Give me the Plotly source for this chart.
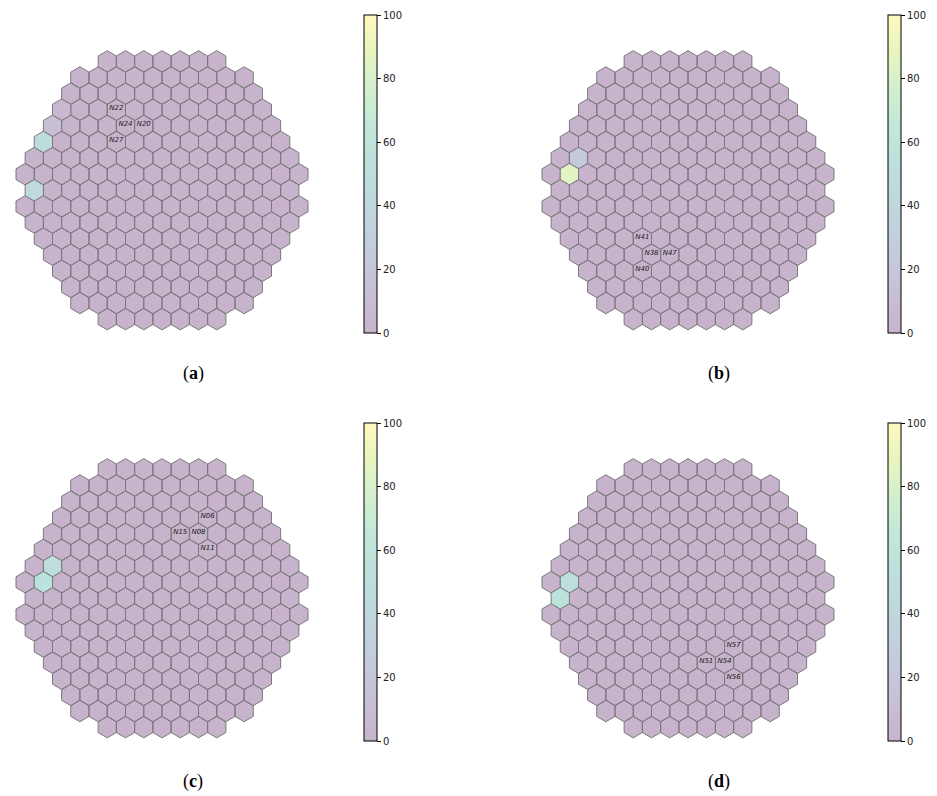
import math
import plotly.graph_objects as go
from plotly.colors import sequential, hex_to_rgb, sample_colorscale

# Number of sensors in each row of the hexagonal array, top to bottom
ROW_COUNTS = [7, 10, 11, 12, 13, 14, 15, 16, 15, 16, 15, 14, 13, 12, 11, 10, 7]

# Non-zero readings per panel: (row, position in row, value)
PANEL_A_VALUES = [(3, 0, 6), (4, 0, 12), (5, 0, 48), (8, 0, 45)]
PANEL_B_VALUES = [(6, 1, 25), (7, 1, 85)]
PANEL_C_VALUES = [(6, 1, 50), (7, 1, 55)]
PANEL_D_VALUES = [(7, 1, 50), (8, 0, 55)]

# Sensor names written on cells: (name, row, position in row)
PANEL_A_LABELS = [("N22", 3, 3), ("N24", 4, 4), ("N20", 4, 5), ("N27", 5, 4)]
PANEL_B_LABELS = [("N41", 11, 4), ("N38", 12, 4), ("N47", 12, 5), ("N40", 13, 3)]
PANEL_C_LABELS = [("N06", 3, 8), ("N15", 4, 7), ("N08", 4, 8), ("N11", 5, 9)]
PANEL_D_LABELS = [("N57", 11, 9), ("N51", 12, 7), ("N54", 12, 8), ("N56", 13, 8)]

PANEL_LETTERS = ["a", "b", "c", "d"]
CBAR_TICKS = [0, 20, 40, 60, 80, 100]
VMIN, VMAX = 0, 100

W, H = 937, 796
ALPHA = 0.3

# translucent viridis, composited over white
def washed(hexcol):
    r, g, b = hex_to_rgb(hexcol)
    f = lambda c: round(ALPHA * c + (1 - ALPHA) * 255)
    return f"rgb({f(r)},{f(g)},{f(b)})"

vir = sequential.Viridis
SCALE = [[i / (len(vir) - 1), washed(c)] for i, c in enumerate(vir)]

SQ3 = math.sqrt(3)
RAD = 1 / SQ3


def cell_center(r, j):
    return j - (ROW_COUNTS[r] - 1) / 2, -r * SQ3 / 2


def hex_path(cx, cy):
    xs, ys = [], []
    for k in range(7):
        a = math.radians(90 + 60 * k)
        xs.append(cx + RAD * math.cos(a))
        ys.append(cy + RAD * math.sin(a))
    return xs, ys


# pixel layout of one panel
SX, SY = 18.25, 18.6          # px per lattice unit
CX0, CY0 = 162, 61.4          # px position of the array centre column / first row
PX0, PX1, PY0, PY1 = 0, 335, 35, 345
OFFSETS = [(0, 0), (526, 0), (0, 408), (526, 408)]
CBAR_DX = [0, 524, 0, 524]

panels = [
    (PANEL_A_VALUES, PANEL_A_LABELS),
    (PANEL_B_VALUES, PANEL_B_LABELS),
    (PANEL_C_VALUES, PANEL_C_LABELS),
    (PANEL_D_VALUES, PANEL_D_LABELS),
]

fig = go.Figure()
layout = {}

for p, (vals, labels) in enumerate(panels):
    n = p + 1
    xa = "x" if n == 1 else f"x{n}"
    ya = "y" if n == 1 else f"y{n}"
    ca = "coloraxis" if n == 1 else f"coloraxis{n}"
    dx, dy = OFFSETS[p]

    value_map = {(r, j): v for r, j, v in vals}
    cx_all, cy_all, v_all = [], [], []
    groups = {}
    for r, cnt in enumerate(ROW_COUNTS):
        for j in range(cnt):
            v = value_map.get((r, j), 0)
            cx, cy = cell_center(r, j)
            cx_all.append(cx)
            cy_all.append(cy)
            v_all.append(v)
            col = sample_colorscale(SCALE, [(v - VMIN) / (VMAX - VMIN)])[0]
            gx, gy = groups.setdefault(col, ([], []))
            hx, hy = hex_path(cx, cy)
            gx.extend(hx + [None])
            gy.extend(hy + [None])

    for col, (gx, gy) in groups.items():
        fig.add_trace(go.Scatter(
            x=gx, y=gy, mode="lines", fill="toself", fillcolor=col,
            line=dict(color="rgb(122,120,124)", width=1),
            xaxis=xa, yaxis=ya, hoverinfo="skip", showlegend=False,
        ))

    # value carriers for the colour bar
    fig.add_trace(go.Scatter(
        x=cx_all, y=cy_all, mode="markers",
        marker=dict(color=v_all, coloraxis=ca, size=8, opacity=0),
        xaxis=xa, yaxis=ya, showlegend=False,
        hovertemplate="%{marker.color}<extra></extra>",
    ))

    lx, ly, lt = [], [], []
    for name, r, j in labels:
        cx, cy = cell_center(r, j)
        lx.append(cx)
        ly.append(cy + 0.08)
        lt.append(name)
    fig.add_trace(go.Scatter(
        x=lx, y=ly, mode="text", text=lt,
        textfont=dict(family="DejaVu Sans", size=7, color="#1a1a1a", style="italic"),
        xaxis=xa, yaxis=ya, hoverinfo="skip", showlegend=False,
    ))

    xr = [(PX0 - CX0) / SX, (PX1 - CX0) / SX]
    yr = [(CY0 - PY1) / SY, (CY0 - PY0) / SY]
    axkey = "" if n == 1 else str(n)
    layout[f"xaxis{axkey}"] = dict(
        domain=[(dx + PX0) / W, (dx + PX1) / W], range=xr, visible=False,
        anchor=ya,
    )
    layout[f"yaxis{axkey}"] = dict(
        domain=[1 - (dy + PY1) / H, 1 - (dy + PY0) / H], range=yr, visible=False,
        anchor=xa,
    )
    layout[ca] = dict(
        cmin=VMIN, cmax=VMAX, colorscale=SCALE,
        colorbar=dict(
            x=(364 + CBAR_DX[p]) / W, xanchor="left", xpad=0,
            y=1 - (174 + dy) / H, yanchor="middle", ypad=0,
            len=318, lenmode="pixels", thickness=13, thicknessmode="pixels",
            outlinewidth=1, outlinecolor="black",
            tickvals=CBAR_TICKS, ticks="outside", ticklen=4, tickwidth=1,
            tickcolor="black",
            tickfont=dict(family="DejaVu Sans", size=10, color="#222"),
        ),
    )
    fig.add_annotation(
        x=(193 + dx) / W, y=1 - (373 + dy) / H, xref="paper", yref="paper",
        text=f"(<b>{PANEL_LETTERS[p]}</b>)", showarrow=False,
        font=dict(family="Liberation Serif", size=18, color="black"),
        xanchor="center", yanchor="middle",
    )

fig.update_layout(
    width=W, height=H, margin=dict(l=0, r=0, t=0, b=0),
    paper_bgcolor="white", plot_bgcolor="white", **layout,
)

fig.write_html("out.html")
